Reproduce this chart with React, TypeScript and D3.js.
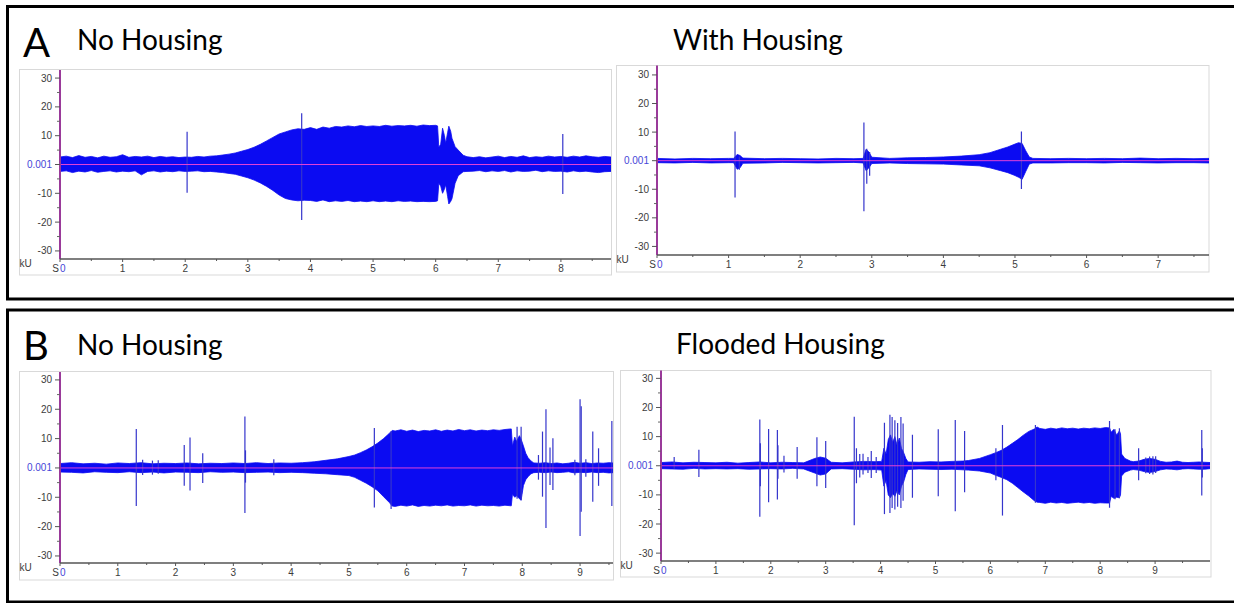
import React from "react";
import * as d3 from "d3";

// Each sample: [time (s), upper envelope (kU), lower envelope (kU)]
type Sample = [number, number, number];

// ---------- Panel A, no housing ----------
const noHousingAEnvelope: Sample[] = [
  [0.0, 2.6, -2.4], [0.1, 2.9, -2.2], [0.2, 2.4, -2.8], [0.3, 3.1, -2.3], [0.4, 2.5, -2.6],
  [0.5, 2.8, -2.1], [0.6, 2.3, -2.7], [0.7, 2.9, -2.4], [0.8, 2.5, -2.2], [0.9, 2.7, -2.6],
  [1.0, 3.4, -2.3], [1.1, 2.5, -2.5], [1.2, 2.8, -2.2], [1.3, 2.6, -3.6], [1.4, 2.9, -2.4],
  [1.5, 2.4, -2.2], [1.6, 2.8, -2.6], [1.7, 2.5, -2.3], [1.8, 2.7, -2.5], [1.9, 2.4, -2.2],
  [2.0, 2.6, -2.4], [2.1, 2.5, -2.3], [2.2, 2.8, -2.2], [2.3, 2.6, -2.5], [2.4, 2.9, -2.4],
  [2.5, 3.0, -2.6], [2.6, 3.3, -2.8], [2.7, 3.6, -3.1], [2.8, 4.0, -3.4], [2.9, 4.6, -4.0],
  [3.0, 5.2, -4.6], [3.1, 6.0, -5.4], [3.2, 7.0, -6.4], [3.3, 8.2, -7.6], [3.4, 9.4, -9.0],
  [3.5, 10.6, -10.6], [3.6, 11.3, -11.8], [3.7, 12.0, -12.3], [3.8, 12.4, -12.6], [3.9, 12.2, -12.4],
  [4.0, 12.8, -12.5], [4.1, 12.2, -12.8], [4.2, 13.0, -12.3], [4.3, 12.6, -12.9], [4.4, 13.2, -12.6],
  [4.5, 13.0, -12.8], [4.6, 13.4, -12.5], [4.7, 13.1, -12.9], [4.8, 13.5, -12.7], [4.9, 13.2, -12.9],
  [5.0, 13.4, -12.6], [5.1, 13.2, -12.9], [5.2, 13.6, -12.7], [5.3, 13.3, -12.9], [5.4, 13.5, -12.6],
  [5.5, 13.4, -12.8], [5.6, 13.6, -12.7], [5.7, 13.3, -12.9], [5.8, 13.7, -12.8], [5.9, 13.5, -12.9],
  [6.0, 13.6, -12.8], [6.03, 13.4, -12.6], [6.05, 6.0, -6.5], [6.08, 7.0, -7.5], [6.11, 12.6, -10.0],
  [6.14, 10.0, -8.5], [6.16, 7.4, -7.0], [6.19, 11.0, -11.0], [6.21, 13.3, -13.7], [6.24, 11.5, -12.8],
  [6.26, 9.1, -11.9], [6.31, 6.2, -6.5], [6.36, 5.0, -3.9], [6.44, 3.2, -2.5], [6.5, 2.7, -2.4],
  [6.6, 2.4, -2.3], [6.7, 2.7, -2.1], [6.8, 2.3, -2.5], [6.9, 2.6, -2.2], [7.0, 2.9, -2.4],
  [7.1, 2.4, -2.1], [7.2, 2.8, -2.6], [7.3, 2.5, -2.2], [7.4, 3.0, -2.4], [7.5, 2.4, -2.3],
  [7.6, 2.7, -2.0], [7.7, 2.5, -2.5], [7.8, 2.9, -2.2], [7.9, 2.6, -2.4], [8.0, 2.8, -2.3],
  [8.1, 2.5, -2.6], [8.2, 2.9, -2.2], [8.3, 2.6, -2.5], [8.4, 3.0, -2.3], [8.5, 2.7, -2.6],
  [8.6, 2.5, -2.8], [8.7, 2.8, -2.5], [8.8, 2.6, -2.4],
];
const noHousingASpikes: Sample[] = [
  [2.03, 11.4, -9.8], [3.86, 17.8, -19.3], [8.03, 10.6, -10.2],
];

// ---------- Panel A, with housing ----------
const withHousingEnvelope: Sample[] = [
  [0.0, 0.8, -0.7], [0.25, 0.6, -0.8], [0.5, 0.8, -0.6], [0.75, 0.7, -0.8], [1.0, 0.8, -0.7],
  [1.07, 0.8, -0.7], [1.12, 2.2, -3.0], [1.16, 1.8, -2.5], [1.2, 0.9, -0.9], [1.5, 0.7, -0.8],
  [1.75, 0.8, -0.6], [2.0, 0.7, -0.7], [2.25, 0.6, -0.8], [2.5, 0.8, -0.7], [2.75, 0.7, -0.6],
  [2.88, 0.8, -0.8], [2.92, 4.0, -3.5], [2.96, 3.0, -2.5], [3.0, 1.2, -1.0], [3.25, 0.8, -0.8],
  [3.5, 1.0, -1.0], [3.75, 1.1, -1.1], [4.0, 1.3, -1.2], [4.25, 1.6, -1.5], [4.5, 2.1, -1.8],
  [4.65, 2.8, -2.5], [4.8, 4.0, -3.5], [4.9, 4.8, -4.2], [5.0, 5.8, -5.2], [5.05, 6.3, -5.8],
  [5.1, 6.0, -6.5], [5.15, 3.5, -3.8], [5.2, 1.3, -1.2], [5.25, 0.8, -0.8], [5.5, 0.7, -0.8],
  [5.75, 0.8, -0.7], [6.0, 0.7, -0.7], [6.25, 0.8, -0.8], [6.5, 0.7, -0.6], [6.75, 0.9, -0.7],
  [7.0, 0.7, -0.8], [7.25, 0.8, -0.7], [7.5, 0.7, -0.7], [7.71, 0.8, -0.8],
];
const withHousingSpikes: Sample[] = [
  [1.09, 10.2, -12.9], [1.15, 1.5, -3.2], [2.89, 13.4, -17.7], [2.93, 4.2, -8.1],
  [2.97, 3.0, -5.3], [5.09, 10.2, -9.9],
];

// ---------- Panel B, no housing ----------
const noHousingBEnvelope: Sample[] = [
  [0.0, 1.5, -1.4], [0.2, 1.8, -1.5], [0.4, 1.4, -1.7], [0.6, 1.6, -1.3], [0.8, 1.3, -1.5],
  [1.0, 1.7, -1.6], [1.2, 1.5, -1.3], [1.4, 1.8, -1.6], [1.6, 1.4, -1.4], [1.8, 1.6, -1.7],
  [2.0, 1.5, -1.4], [2.2, 1.7, -1.5], [2.4, 1.4, -1.6], [2.6, 1.6, -1.3], [2.8, 1.5, -1.5],
  [3.0, 1.7, -1.4], [3.2, 1.5, -1.6], [3.4, 1.8, -1.5], [3.6, 1.5, -1.4], [3.8, 1.7, -1.6],
  [4.0, 1.6, -1.5], [4.2, 1.8, -1.6], [4.4, 2.1, -1.8], [4.6, 2.6, -2.0], [4.8, 3.1, -2.3],
  [5.0, 3.9, -2.6], [5.1, 4.4, -3.2], [5.2, 5.2, -4.2], [5.3, 6.1, -5.2], [5.4, 7.2, -6.4],
  [5.5, 8.5, -7.8], [5.6, 10.0, -9.8], [5.7, 11.8, -11.8], [5.75, 12.8, -13.0], [5.8, 12.6, -13.1],
  [5.9, 13.0, -12.7], [6.0, 12.5, -13.0], [6.1, 12.9, -12.6], [6.2, 12.4, -13.1], [6.3, 12.8, -12.8],
  [6.4, 12.6, -13.0], [6.5, 13.0, -12.7], [6.6, 12.5, -12.9], [6.7, 12.9, -12.6], [6.8, 12.6, -13.0],
  [6.9, 13.1, -12.8], [7.0, 12.7, -12.9], [7.1, 13.0, -12.6], [7.2, 12.6, -13.0], [7.3, 12.9, -12.7],
  [7.4, 12.7, -12.9], [7.5, 13.0, -12.8], [7.6, 12.8, -13.0], [7.7, 13.1, -12.7], [7.8, 13.3, -12.9],
  [7.81, 13.3, -12.9], [7.83, 7.5, -9.0], [7.87, 10.5, -10.0], [7.9, 9.0, -9.5], [7.95, 11.0, -10.5],
  [7.98, 9.8, -11.0], [8.02, 7.5, -6.0], [8.06, 5.0, -4.0], [8.1, 3.5, -3.0], [8.15, 2.4, -2.0],
  [8.2, 1.7, -1.6], [8.3, 1.6, -1.5], [8.4, 1.8, -1.6], [8.5, 1.5, -1.4], [8.6, 1.7, -1.6],
  [8.7, 1.4, -1.5], [8.8, 1.6, -1.3], [8.9, 1.9, -1.7], [9.0, 1.6, -1.5], [9.1, 1.8, -1.6],
  [9.2, 1.5, -1.4], [9.3, 1.7, -1.6], [9.4, 1.6, -1.5], [9.5, 1.8, -1.7], [9.57, 1.7, -1.6],
];
const noHousingBSpikes: Sample[] = [
  [1.32, 13.3, -13.0], [1.43, 2.8, -2.4], [1.6, 2.5, -2.3], [1.7, 2.6, -2.0], [2.15, 7.8, -6.1],
  [2.25, 10.4, -7.7], [2.47, 5.0, -5.1], [3.2, 17.5, -15.4], [3.21, 6.0, -5.0], [3.7, 3.0, -2.5],
  [5.44, 13.6, -13.5], [5.73, 12.5, -14.0], [7.91, 14.0, -10.5], [7.98, 14.0, -11.0],
  [8.28, 4.4, -4.0], [8.35, 12.4, -9.8], [8.41, 20.0, -20.5], [8.48, 7.0, -5.8], [8.53, 10.1, -7.5],
  [8.91, 2.8, -2.5], [9.0, 23.4, -23.2], [9.02, 21.0, -14.9], [9.1, 3.0, -3.0], [9.22, 12.4, -11.5],
  [9.32, 6.7, -6.1], [9.55, 16.0, -13.0],
];

// ---------- Panel B, flooded housing ----------
const floodedEnvelope: Sample[] = [
  [0.0, 1.1, -1.0], [0.2, 1.3, -1.1], [0.4, 1.0, -1.2], [0.6, 1.2, -0.9], [0.8, 1.1, -1.1],
  [1.0, 1.0, -1.0], [1.2, 1.2, -1.1], [1.4, 0.9, -1.0], [1.6, 1.1, -1.2], [1.8, 1.3, -1.1],
  [2.0, 1.0, -1.0], [2.2, 1.2, -1.1], [2.4, 1.1, -0.9], [2.6, 1.0, -1.1], [2.8, 2.5, -2.5],
  [2.9, 3.0, -3.2], [3.0, 2.6, -2.8], [3.1, 1.2, -1.1], [3.3, 1.0, -1.0], [3.5, 1.3, -1.2],
  [3.7, 1.5, -1.4], [3.9, 1.4, -1.3], [4.02, 1.5, -1.5], [4.06, 6.0, -7.0], [4.1, 4.0, -5.0],
  [4.14, 9.0, -10.0], [4.18, 10.6, -11.0], [4.22, 8.0, -9.5], [4.26, 10.0, -10.5], [4.3, 7.0, -8.5],
  [4.34, 9.5, -10.0], [4.38, 6.0, -7.0], [4.42, 4.5, -5.5], [4.46, 2.5, -3.0], [4.5, 1.3, -1.3],
  [4.7, 1.2, -1.1], [4.9, 1.4, -1.2], [5.1, 1.3, -1.3], [5.3, 1.5, -1.2], [5.5, 1.6, -1.4],
  [5.6, 1.8, -1.5], [5.8, 2.5, -1.8], [6.0, 3.8, -2.5], [6.1, 4.5, -3.3], [6.2, 5.3, -4.0],
  [6.3, 6.4, -4.8], [6.4, 7.7, -6.0], [6.5, 9.0, -7.5], [6.6, 10.5, -9.0], [6.7, 11.8, -10.4],
  [6.8, 12.6, -12.0], [6.85, 13.3, -12.5], [6.9, 12.8, -12.6], [7.0, 12.5, -12.9], [7.1, 12.9, -12.5],
  [7.2, 12.6, -12.8], [7.3, 13.0, -12.6], [7.4, 12.7, -12.9], [7.5, 12.9, -12.7], [7.6, 12.6, -12.5],
  [7.7, 12.9, -12.8], [7.8, 12.7, -12.6], [7.9, 13.0, -12.9], [8.0, 12.8, -12.7], [8.1, 13.1, -12.8],
  [8.17, 13.0, -12.8], [8.2, 11.5, -10.5], [8.25, 12.5, -11.2], [8.3, 10.5, -10.8], [8.35, 12.0, -11.0],
  [8.37, 11.0, -10.0], [8.39, 4.0, -3.5], [8.45, 2.5, -2.2], [8.55, 1.6, -1.5], [8.6, 1.4, -1.3],
  [8.7, 1.6, -1.5], [8.8, 2.2, -2.0], [8.9, 2.5, -2.3], [9.0, 2.2, -2.0], [9.1, 1.5, -1.4],
  [9.2, 1.2, -1.1], [9.3, 1.3, -1.2], [9.4, 1.6, -1.4], [9.5, 1.2, -1.1], [9.6, 1.1, -1.0],
  [9.7, 1.2, -1.1], [9.8, 1.3, -1.2], [9.9, 1.2, -1.2], [10.0, 1.1, -1.0],
];
const floodedSpikes: Sample[] = [
  [0.24, 3.0, -1.0], [0.69, 5.5, -3.9], [1.8, 15.9, -17.5], [1.81, 7.7, -7.0], [1.96, 12.6, -12.5],
  [2.12, 12.3, -11.6], [2.13, 7.0, -4.5], [2.24, 3.4, -2.3], [2.48, 6.4, -4.5], [2.84, 9.8, -7.0],
  [3.0, 8.5, -7.6], [3.52, 16.8, -20.4], [3.56, 6.0, -6.0], [3.62, 4.0, -4.0], [3.68, 4.1, -3.0],
  [3.77, 3.0, -2.5], [3.83, 5.1, -4.2], [3.92, 3.0, -2.5], [4.07, 14.8, -16.6], [4.17, 17.5, -16.2],
  [4.21, 16.7, -14.5], [4.26, 15.6, -15.0], [4.31, 14.7, -14.1], [4.37, 16.7, -14.5], [4.41, 14.5, -12.0],
  [4.58, 10.6, -11.0], [5.05, 12.5, -10.5], [5.36, 15.7, -15.6], [5.53, 11.9, -9.1], [6.1, 6.0, -5.0],
  [6.22, 14.0, -17.1], [6.82, 14.0, -12.7], [8.17, 15.4, -14.4], [8.27, 12.5, -11.5], [8.35, 12.9, -11.2],
  [8.7, 6.0, -5.0], [8.83, 2.8, -2.6], [8.9, 3.2, -2.8], [8.96, 3.3, -3.0], [9.01, 3.3, -2.5],
  [9.85, 12.3, -10.2], [9.86, 6.0, -4.0],
];

// Axis ticks (kU) and titles
const yMajorTicks = [-30, -20, -10, 0, 10, 20, 30];
const yMinorTicks = [-25, -15, -5, 5, 15, 25];
const zeroLabel = "0.001";
const panelTitles = ["No Housing", "With Housing", "No Housing", "Flooded Housing"];
const groupLetters = ["A", "B"];

// Screen layout of each trace widget
type Layout = {
  box: [number, number, number, number]; // left, top, right, bottom
  axisX: number;
  right: number;
  top: number;
  axisY: number;
  tMax: number;
  vMin: number;
  vMax: number;
};

const layouts: Layout[] = [
  { box: [19.5, 69.5, 611.5, 275], axisX: 60, right: 611, top: 70, axisY: 259, tMax: 8.8, vMin: -32.8, vMax: 32.8 },
  { box: [616.5, 65.5, 1209, 272], axisX: 657, right: 1209, top: 65.5, axisY: 255, tMax: 7.71, vMin: -33.0, vMax: 33.3 },
  { box: [19.5, 371.5, 613.5, 580], axisX: 60, right: 613, top: 372, axisY: 563, tMax: 9.57, vMin: -32.4, vMax: 32.7 },
  { box: [620.5, 370.5, 1211, 577], axisX: 661, right: 1210, top: 370.5, axisY: 561, tMax: 10.0, vMin: -32.7, vMax: 32.7 },
];

const FILL = "#0b0bf2";
const SPIKE = "#3535cc";
const ZERO_LINE = "#e040d8";
const Y_AXIS = "#9a3a9a";
const LABEL = "#3c3c3c";
const BLUE_LABEL = "#4646d8";
const tickFont = "'Liberation Sans', Arial, sans-serif";
const titleFont = "Lato, 'Open Sans', sans-serif";

function Trace({ id, layout, envelope, spikes }: { id: string; layout: Layout; envelope: Sample[]; spikes: Sample[] }) {
  const x = d3.scaleLinear().domain([0, layout.tMax]).range([layout.axisX, layout.right]);
  const y = d3.scaleLinear().domain([layout.vMin, layout.vMax]).range([layout.axisY, layout.top]);
  const area = d3
    .area<Sample>()
    .x((d) => x(d[0]))
    .y0((d) => y(d[2]))
    .y1((d) => y(d[1]));
  const [bl, bt, br, bb] = layout.box;
  const secTicks = d3.range(0, Math.floor(layout.tMax - 0.05) + 1);
  const halfTicks = d3.range(0.5, layout.tMax, 1);

  return (
    <g>
      <defs>
        <clipPath id={id}>
          <rect x={layout.axisX} y={layout.top} width={layout.right - layout.axisX} height={layout.axisY - layout.top} />
        </clipPath>
      </defs>
      <rect x={bl} y={bt} width={br - bl} height={bb - bt} fill="#fff" stroke="#d9d9d9" strokeWidth={1} />
      <g clipPath={`url(#${id})`}>
        <path d={area(envelope) ?? ""} fill={FILL} stroke={FILL} strokeWidth={0.8} />
        {spikes.map((s, i) => (
          <line key={i} x1={x(s[0])} x2={x(s[0])} y1={y(s[1])} y2={y(s[2])} stroke={SPIKE} strokeWidth={1.2} />
        ))}
        <line x1={layout.axisX} x2={layout.right} y1={y(0)} y2={y(0)} stroke={ZERO_LINE} strokeWidth={1} />
      </g>
      {/* value axis */}
      <line x1={layout.axisX} x2={layout.axisX} y1={layout.top} y2={layout.axisY} stroke={Y_AXIS} strokeWidth={2} />
      {yMajorTicks.map((v) => (
        <g key={v}>
          <line x1={layout.axisX - 5} x2={layout.axisX} y1={y(v)} y2={y(v)} stroke="#555" strokeWidth={1} />
          <text
            x={layout.axisX - 8}
            y={y(v) + 3.5}
            textAnchor="end"
            fontFamily={tickFont}
            fontSize={10}
            fill={v === 0 ? BLUE_LABEL : LABEL}
          >
            {v === 0 ? zeroLabel : String(v)}
          </text>
        </g>
      ))}
      {yMinorTicks.map((v) => (
        <line key={v} x1={layout.axisX - 3} x2={layout.axisX} y1={y(v)} y2={y(v)} stroke="#666" strokeWidth={1} />
      ))}
      {/* time axis */}
      <line x1={layout.axisX} x2={layout.right} y1={layout.axisY} y2={layout.axisY} stroke="#555" strokeWidth={1.5} />
      {secTicks.map((t) => (
        <g key={t}>
          <line x1={x(t)} x2={x(t)} y1={layout.axisY} y2={layout.axisY + 3} stroke="#555" strokeWidth={1} />
          {t > 0 && (
            <text x={x(t)} y={layout.axisY + 13} textAnchor="middle" fontFamily={tickFont} fontSize={10} fill={LABEL}>
              {t}
            </text>
          )}
        </g>
      ))}
      {halfTicks.map((t) => (
        <line key={t} x1={x(t)} x2={x(t)} y1={layout.axisY} y2={layout.axisY + 2} stroke="#555" strokeWidth={1} />
      ))}
      <text x={layout.axisX - 1} y={layout.axisY + 13} textAnchor="end" fontFamily={tickFont} fontSize={10} fill={LABEL}>
        S
      </text>
      <text x={layout.axisX} y={layout.axisY + 13} fontFamily={tickFont} fontSize={10} fill={BLUE_LABEL}>
        0
      </text>
      <text x={bl} y={layout.axisY + 8} fontFamily={tickFont} fontSize={10} fill={LABEL}>
        kU
      </text>
    </g>
  );
}

export default function App() {
  const traces = [
    { envelope: noHousingAEnvelope, spikes: noHousingASpikes },
    { envelope: withHousingEnvelope, spikes: withHousingSpikes },
    { envelope: noHousingBEnvelope, spikes: noHousingBSpikes },
    { envelope: floodedEnvelope, spikes: floodedSpikes },
  ];
  const titlePos = [
    { x: 77, y: 50 },
    { x: 673, y: 50 },
    { x: 77, y: 355 },
    { x: 676, y: 354 },
  ];
  const letterPos = [
    { x: 23, y: 57 },
    { x: 23, y: 360 },
  ];
  return (
    <svg
      width={1234}
      height={603}
      viewBox="0 0 1234 603"
      style={{ position: "absolute", left: 0, top: 0, background: "#fff" }}
    >
      <rect x={0} y={0} width={1234} height={603} fill="#fff" />
      {/* group frames */}
      <rect x={7.5} y={6.5} width={1240} height={292.5} fill="none" stroke="#000" strokeWidth={3} />
      <rect x={7.5} y={310} width={1240} height={292} fill="none" stroke="#000" strokeWidth={3} />
      {traces.map((t, i) => (
        <Trace key={i} id={`clip-${i}`} layout={layouts[i]} envelope={t.envelope} spikes={t.spikes} />
      ))}
      {groupLetters.map((l, i) => (
        <text key={l} x={letterPos[i].x} y={letterPos[i].y} fontFamily={titleFont} fontSize={40} fill="#000">
          {l}
        </text>
      ))}
      {panelTitles.map((t, i) => (
        <text key={i} x={titlePos[i].x} y={titlePos[i].y} fontFamily={titleFont} fontSize={28} fill="#000">
          {t}
        </text>
      ))}
    </svg>
  );
}
